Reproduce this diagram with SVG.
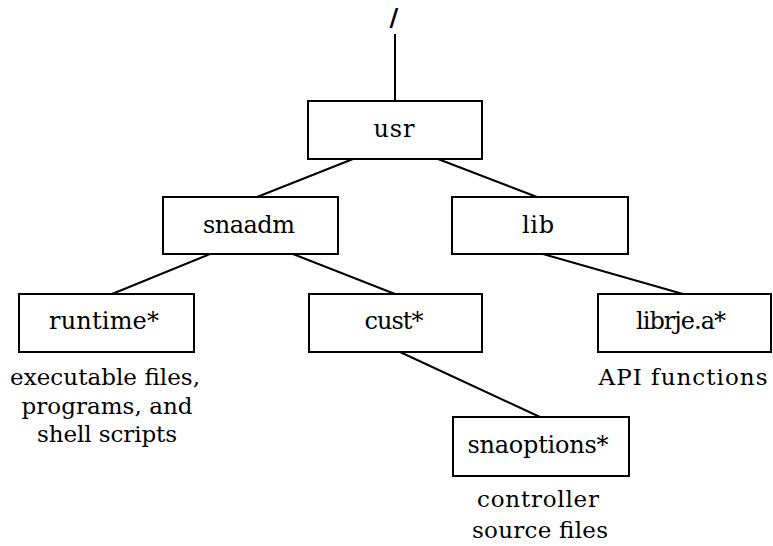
<svg xmlns="http://www.w3.org/2000/svg" width="773" height="546" viewBox="0 0 773 546">
<style>
.box{fill:#fff;stroke:#000;stroke-width:2}
.t{font-family:"DejaVu Serif","Liberation Serif",serif;font-size:24px;text-anchor:middle;fill:#000}
.c{font-family:"DejaVu Serif","Liberation Serif",serif;font-size:23px;text-anchor:middle;fill:#000}
.ln{stroke:#000;stroke-width:2;fill:none}
</style>
<rect width="773" height="546" fill="#fff"/>
<g id="connectors">
<line class="ln" x1="395" y1="34" x2="395" y2="101"/>
<line class="ln" x1="353" y1="159" x2="257" y2="197"/>
<line class="ln" x1="438" y1="159" x2="537" y2="197"/>
<line class="ln" x1="210" y1="254" x2="112" y2="294"/>
<line class="ln" x1="293" y1="254" x2="395" y2="294"/>
<line class="ln" x1="543" y1="254" x2="683" y2="294"/>
<line class="ln" x1="400" y1="352" x2="540" y2="417"/>
</g>
<g id="root"><text class="t" x="394" y="26" font-size="24" font-weight="bold">/</text></g>
<g id="usr"><rect class="box" x="308" y="101" width="174" height="58"/><text class="t" x="394" y="137" textLength="41">usr</text></g>
<g id="snaadm"><rect class="box" x="163" y="197" width="175" height="57"/><text class="t" x="249" y="233" textLength="92">snaadm</text></g>
<g id="lib"><rect class="box" x="452" y="197" width="176" height="57"/><text class="t" x="538" y="233" textLength="32">lib</text></g>
<g id="runtime"><rect class="box" x="19" y="294" width="175" height="58"/><text class="t" x="104" y="329" textLength="110">runtime*</text>
<text class="c" x="105" y="385" textLength="190">executable files,</text>
<text class="c" x="107" y="414" textLength="171">programs, and</text>
<text class="c" x="107" y="442" textLength="140">shell scripts</text></g>
<g id="cust"><rect class="box" x="309" y="294" width="173" height="58"/><text class="t" x="394" y="329" textLength="59">cust*</text></g>
<g id="librje"><rect class="box" x="598" y="294" width="173" height="58"/><text class="t" x="681" y="329" textLength="90">librje.a*</text>
<text class="c" x="683" y="385" textLength="169">API functions</text></g>
<g id="snaoptions"><rect class="box" x="453" y="417" width="176" height="59"/><text class="t" x="538" y="453" textLength="141">snaoptions*</text>
<text class="c" x="538" y="507" textLength="122">controller</text>
<text class="c" x="540" y="538" textLength="136">source files</text></g>
</svg>
